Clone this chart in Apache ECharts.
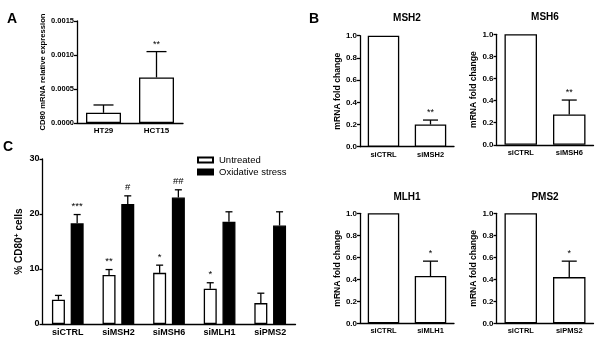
<!DOCTYPE html>
<html>
<head>
<meta charset="utf-8">
<title>CD80 / MMR figure</title>
<script src="https://cdn.jsdelivr.net/npm/echarts@6/dist/echarts.min.js"></script>
<style>
  html, body { margin: 0; padding: 0; background: #fff; }
  #chart { width: 600px; height: 349px; }
</style>
</head>
<body>
<div id="chart"></div>
<script>
// panel A
var catA = ['HT29', 'HCT15'];
var meanA = [0.00015, 0.00067];
var semA = [0.000115, 0.00038];
var sigA = ['', '**'];

// panel B (four knockdowns)
var catMSH2 = ['siCTRL', 'siMSH2'];
var meanMSH2 = [1.0, 0.20];
var semMSH2 = [0, 0.04];
var sigMSH2 = ['', '**'];

var catMSH6 = ['siCTRL', 'siMSH6'];
var meanMSH6 = [1.0, 0.275];
var semMSH6 = [0, 0.13];
var sigMSH6 = ['', '**'];

var catMLH1 = ['siCTRL', 'siMLH1'];
var meanMLH1 = [1.0, 0.43];
var semMLH1 = [0, 0.135];
var sigMLH1 = ['', '*'];

var catPMS2 = ['siCTRL', 'siPMS2'];
var meanPMS2 = [1.0, 0.42];
var semPMS2 = [0, 0.145];
var sigPMS2 = ['', '*'];

// panel C
var catC = ['siCTRL', 'siMSH2', 'siMSH6', 'siMLH1', 'siPMS2'];
var untreated = [4.4, 8.9, 9.3, 6.4, 3.8];
var untreatedSem = [0.8, 1.0, 1.4, 1.1, 1.8];
var untreatedSig = ['', '**', '*', '*', ''];
var oxidative = [18.3, 21.8, 23.0, 18.6, 17.9];
var oxidativeSem = [1.6, 1.5, 1.4, 1.8, 2.5];
var oxidativeSig = ['***', '#', '##', '', ''];

var FONT = '"Liberation Sans", Arial, sans-serif';
var LW = 1.3;

var chart = echarts.init(document.getElementById('chart'));

// error bar (upwards only) + significance mark
function errRender(means, sems, sigs, capHalf, offset, sigSize) {
  return function (params, api) {
    var i = params.dataIndex;
    var x = api.coord([i, 0])[0] + offset;
    var yTop = api.coord([i, means[i]])[1];
    var yErr = api.coord([i, means[i] + sems[i]])[1];
    var kids = [];
    if (sems[i] > 0) {
      kids.push({ type: 'line', shape: { x1: x, y1: yTop, x2: x, y2: yErr }, style: { stroke: '#000', lineWidth: LW } });
      kids.push({ type: 'line', shape: { x1: x - capHalf, y1: yErr, x2: x + capHalf, y2: yErr }, style: { stroke: '#000', lineWidth: LW } });
    }
    if (sigs[i]) {
      kids.push({ type: 'text', x: x, y: yErr - 3,
        style: { text: sigs[i], textAlign: 'center', textVerticalAlign: 'bottom',
                 font: sigSize + 'px ' + FONT, fill: '#000' } });
    }
    return { type: 'group', children: kids };
  };
}

function catAxis(idx, cats, size) {
  return {
    type: 'category', gridIndex: idx, data: cats,
    axisLine: { lineStyle: { color: '#000', width: LW } },
    axisTick: { alignWithLabel: true, length: 3, lineStyle: { color: '#000', width: LW } },
    axisLabel: { color: '#000', fontFamily: FONT, fontWeight: 'bold', fontSize: size, margin: 4 }
  };
}

function valAxis(idx, max, step, dec, size, name, nameSize, gap) {
  return {
    type: 'value', gridIndex: idx, min: 0, max: max, interval: step,
    name: name, nameLocation: 'middle', nameGap: gap,
    nameTextStyle: { color: '#000', fontFamily: FONT, fontWeight: 'bold', fontSize: nameSize },
    splitLine: { show: false },
    axisLine: { show: true, lineStyle: { color: '#000', width: LW } },
    axisTick: { show: true, length: 3, lineStyle: { color: '#000', width: LW } },
    axisLabel: { color: '#000', fontFamily: FONT, fontWeight: 'bold', fontSize: size, margin: 3,
                 formatter: function (v) { return v.toFixed(dec); } }
  };
}

var grids = [
  { left: 77, top: 21, width: 106, height: 102 },     // A
  { left: 360, top: 35.7, width: 94, height: 111 },   // MSH2
  { left: 496.5, top: 34.3, width: 97, height: 110.5 }, // MSH6
  { left: 360, top: 213.3, width: 94, height: 110 },  // MLH1
  { left: 496.5, top: 213.3, width: 97, height: 110 }, // PMS2
  { left: 42.5, top: 159, width: 253, height: 165 }   // C
];

var xAxes = [
  catAxis(0, catA, 8),
  catAxis(1, catMSH2, 7.5),
  catAxis(2, catMSH6, 7.5),
  catAxis(3, catMLH1, 7.5),
  catAxis(4, catPMS2, 7.5),
  catAxis(5, catC, 9)
];

var yAxes = [
  valAxis(0, 0.0015, 0.0005, 4, 7.5, 'CD80 mRNA relative expression', 7.7, 23),
  valAxis(1, 1.0, 0.2, 1, 8, 'mRNA fold change', 8.6, 18),
  valAxis(2, 1.0, 0.2, 1, 8, 'mRNA fold change', 8.6, 18),
  valAxis(3, 1.0, 0.2, 1, 8, 'mRNA fold change', 8.6, 18),
  valAxis(4, 1.0, 0.2, 1, 8, 'mRNA fold change', 8.6, 18),
  valAxis(5, 30, 10, 0, 9, '{n|% CD80}{s|+}{n| cells}', 10, 17)
];
yAxes[5].nameTextStyle.rich = {
  n: { fontFamily: FONT, fontWeight: 'bold', fontSize: 10, color: '#000' },
  s: { fontFamily: FONT, fontWeight: 'bold', fontSize: 7, color: '#000', verticalAlign: 'top', padding: [0, 0, 5, 0] }
};

var whiteBar = { color: '#fff', borderColor: '#000', borderWidth: LW };

var series = [];
var small = [
  [meanA, semA, sigA, 0.66],
  [meanMSH2, semMSH2, sigMSH2, 0.67],
  [meanMSH6, semMSH6, sigMSH6, 0.67],
  [meanMLH1, semMLH1, sigMLH1, 0.67],
  [meanPMS2, semPMS2, sigPMS2, 0.67]
];
small.forEach(function (p, k) {
  var bw = grids[k].width / 2 * p[3];
  series.push({
    type: 'bar', xAxisIndex: k, yAxisIndex: k, data: p[0],
    barWidth: bw, itemStyle: whiteBar, silent: true
  });
  series.push({
    type: 'custom', xAxisIndex: k, yAxisIndex: k, silent: true, z: 5,
    data: p[0].map(function (m, i) { return [i, m + p[1][i]]; }),
    renderItem: errRender(p[0], p[1], p[2], k === 0 ? 10 : 7.5, 0, 9)
  });
});

var bwC = 13, gapC = 0.44;
var offC = (bwC + bwC * gapC) / 2;
series.push({
  name: 'Untreated', type: 'bar', xAxisIndex: 5, yAxisIndex: 5, data: untreated,
  barWidth: bwC, barGap: (gapC * 100) + '%', itemStyle: whiteBar
});
series.push({
  name: 'Oxidative stress', type: 'bar', xAxisIndex: 5, yAxisIndex: 5, data: oxidative,
  barWidth: bwC, barGap: (gapC * 100) + '%', itemStyle: { color: '#000', borderColor: '#000', borderWidth: LW }
});
series.push({
  type: 'custom', xAxisIndex: 5, yAxisIndex: 5, silent: true, z: 5,
  data: untreated.map(function (m, i) { return [i, m + untreatedSem[i]]; }),
  renderItem: errRender(untreated, untreatedSem, untreatedSig, 3.5, -offC, 9.5)
});
series.push({
  type: 'custom', xAxisIndex: 5, yAxisIndex: 5, silent: true, z: 5,
  data: oxidative.map(function (m, i) { return [i, m + oxidativeSem[i]]; }),
  renderItem: errRender(oxidative, oxidativeSem, oxidativeSig, 3.5, offC, 9.5)
});

function letter(t, l, tp) {
  return { text: t, left: l, top: tp, textStyle: { fontFamily: FONT, fontWeight: 'bold', fontSize: 14, color: '#000' }, padding: 0 };
}
function head(t, cx, tp) {
  return { text: t, left: cx, top: tp, textAlign: 'center', padding: 0,
           textStyle: { fontFamily: FONT, fontWeight: 'bold', fontSize: 10, color: '#000' } };
}

chart.setOption({
  animation: false,
  backgroundColor: '#fff',
  title: [
    letter('A', 7, 12), letter('B', 309, 12), letter('C', 3, 140),
    head('MSH2', 407, 13), head('MSH6', 545, 12),
    head('MLH1', 407, 192), head('PMS2', 545, 192)
  ],
  legend: {
    data: ['Untreated', 'Oxidative stress'], orient: 'vertical',
    left: 197, top: 155, itemWidth: 15, itemHeight: 5, itemGap: 2,
    icon: 'rect', padding: 0,
    textStyle: { fontFamily: FONT, fontSize: 9.5, color: '#000', padding: [0, 0, 0, 1] }
  },
  grid: grids,
  xAxis: xAxes,
  yAxis: yAxes,
  series: series
});
</script>
</body>
</html>
